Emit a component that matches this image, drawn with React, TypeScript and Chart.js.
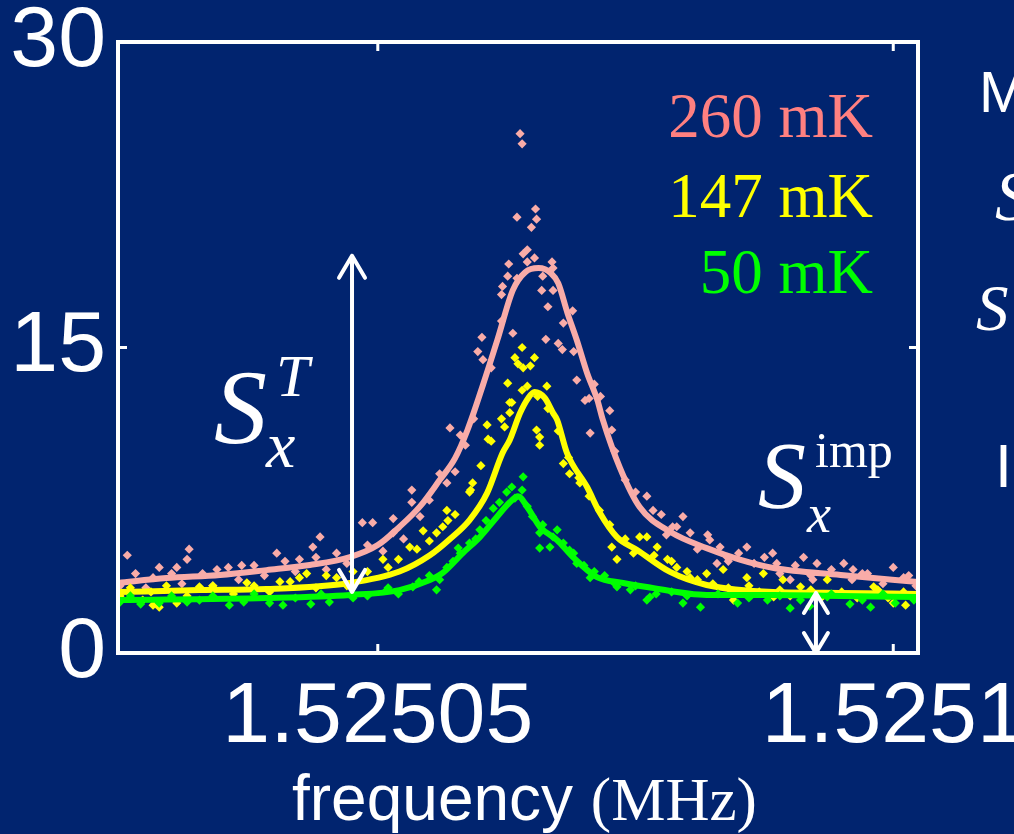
import React, { useEffect, useRef } from "react";
import { Chart, registerables } from "chart.js";

Chart.register(...registerables);

// x values: frequency offset in Hz from 1.52505 MHz
const xTickValues = [0, 50];
const xTickLabels = ["1.52505", "1.5251"];
const yTickValues = [0, 15, 30];
const yTickLabels = ["0", "15", "30"];
const xRange = [-25.2, 52.4];
const yRange = [0, 30];

const temperatures = ["260 mK", "147 mK", "50 mK"];
const seriesColors = ["#f9aca8", "#ffff00", "#00ff00"];
const legendColors = ["#ff8080", "#ffff00", "#00ff00"];

// fitted curves
const pinkFitFreq = [-25.2, -20.5, -15.3, -10.8, -6.6, -2.7, 0, 2.1, 4.1, 6.0, 7.5, 8.7, 10.2, 11.6, 13.1, 14.3, 15.6, 16.8, 17.5, 18.4, 19.3, 20.3, 21.3, 21.8, 23.5, 25.4, 28.4, 31.9, 35.2, 38.4, 44.9, 52.4];
const pinkFitS = [3.44, 3.68, 3.83, 4.07, 4.32, 4.71, 5.3, 6.19, 7.2, 8.49, 9.57, 10.95, 13.16, 15.37, 17.82, 18.7, 18.9, 18.65, 18.16, 16.69, 15.37, 13.75, 12.42, 11.5, 9.08, 7.17, 5.94, 5.15, 4.57, 4.17, 3.83, 3.49];

const yellowFitFreq = [-25.2, -17.3, -10.8, -2.7, 2.1, 5.05, 7.0, 8.9, 10.6, 12.1, 12.8, 13.8, 14.6, 15.2, 16.2, 17.0, 17.4, 18.35, 20.3, 21.55, 23.2, 25.15, 28.35, 31.9, 38.35, 44.85, 52.4];
const yellowFitS = [2.99, 3.09, 3.14, 3.44, 4.0, 4.8, 5.6, 6.53, 7.85, 9.82, 10.46, 11.78, 12.52, 12.81, 12.52, 11.78, 11.44, 9.82, 8.15, 6.87, 5.69, 5.06, 3.98, 3.34, 2.99, 2.95, 2.9];

const greenFitFreq = [-25.2, -10.8, -2.7, 2.1, 5.05, 6.3, 8.25, 9.9, 11.55, 12.8, 13.6, 14.56, 15.73, 17.38, 18.93, 21.26, 23.8, 26.1, 31.9, 38.35, 44.85, 52.4];
const greenFitS = [2.6, 2.7, 2.85, 3.09, 3.58, 3.93, 4.91, 5.69, 6.68, 7.4, 7.7, 7.12, 6.19, 5.55, 4.71, 3.73, 3.44, 3.24, 2.85, 2.85, 2.8, 2.75];

// measured points [frequency offset (Hz), S]
const pinkPoints = [
  [13.8, 25.5], [14.0, 25.0], [15.3, 21.8], [13.5, 21.4], [15.4, 21.3], [14.9, 20.9], [14.5, 19.8], [14.1, 19.6],
  [12.7, 19.1], [12.6, 18.5], [12.1, 18.0], [12.0, 17.6], [15.9, 17.8], [16.5, 17.0], [10.1, 15.5], [16.3, 15.4],
  [13.1, 15.7], [15.2, 19.4], [16.9, 19.2], [17.0, 18.9], [9.7, 14.8], [10.2, 14.4], [7.0, 11.05], [8.0, 10.7],
  [17.5, 15.2], [17.9, 14.9], [19.3, 13.4], [20.1, 12.4], [22.5, 11.9], [21.6, 12.6], [20.6, 10.8], [22.7, 10.95],
  [18.9, 16.8],
  [-24.3, 4.8], [-21.8, 3.7], [-21.2, 4.2], [-19.5, 4.2], [-18.5, 4.6], [-18.3, 5.1], [-15.6, 4.1], [-13.2, 4.3],
  [-9.8, 4.9], [-7.6, 4.6], [-6.3, 5.2], [-5.6, 5.7], [-1.5, 6.4], [-0.5, 6.4], [1.5, 6.6], [3.3, 8.0], [3.3, 7.4],
  [4.1, 6.7], [6.0, 8.8], [6.7, 8.35],
  [26.1, 7.7], [26.7, 7.0], [28.6, 6.2], [29.6, 6.7], [30.3, 5.9], [32.2, 5.55], [32.9, 4.4], [33.2, 5.2], [33.9, 4.7],
  [35.8, 5.2], [38.3, 4.9], [38.7, 4.4], [40.0, 3.6], [41.3, 4.7], [42.2, 3.6], [42.6, 4.4], [45.2, 4.4], [46.1, 4.1],
  [47.5, 3.9], [50.0, 4.2], [51.0, 3.7],
  [-25, 3.3], [-23.5, 3.9], [-22.5, 3.2], [-20, 3.9], [-19, 3.4], [-17, 3.9], [-16, 3.3], [-14.5, 4.2], [-13.5, 3.6],
  [-12, 4.3], [-11, 3.8], [-9, 4.5], [-8, 4.0], [-6, 4.7], [-5, 4.1], [-4, 4.9], [-3, 4.4], [-1, 5.3], [0.5, 5.0],
  [1.5, 5.9], [2.5, 5.6], [5, 7.5], [7.5, 8.9], [8.5, 10.2], [9.3, 11.5], [11, 14.0], [12, 16.3], [13.5, 18.4],
  [14.5, 19.2], [16, 18.5], [17, 17.8], [18, 16.2], [19, 14.8], [20.5, 12.5], [21, 13.2], [23, 9.9], [24, 8.5],
  [25, 7.9], [27.5, 6.8], [28, 5.8], [29, 6.2], [31, 5.1], [32, 5.8], [34, 4.5], [35, 4.9], [36.5, 4.4], [37.5, 4.7],
  [39, 3.9], [40.5, 4.3], [42, 3.8], [44, 4.1], [46, 3.6], [47, 3.9], [49, 3.4], [51.5, 3.8], [52.2, 3.3],
];

const yellowPoints = [
  [14.0, 15.0], [15.2, 14.5], [14.8, 14.1], [13.6, 14.2], [13.3, 14.5], [14.1, 14.0], [12.6, 13.25], [14.5, 13.1],
  [16.4, 13.1], [12.8, 12.3], [12.8, 11.8], [10.6, 11.2], [12.3, 11.1], [15.4, 10.95], [15.7, 10.6], [15.7, 10.2],
  [10.7, 10.5], [18.0, 9.3], [18.6, 8.8], [19.6, 8.35], [9.2, 8.35], [8.9, 7.9], [6.7, 7.0], [6.8, 6.5], [6.3, 6.2],
  [22.7, 5.2], [24.8, 4.9], [23.2, 4.6], [25.4, 5.7],
  [-22.8, 2.6], [-21.8, 2.35], [-21.2, 2.25], [-19.5, 2.45], [-17.3, 3.25], [-12.7, 3.45], [-9.5, 3.5], [-7.6, 3.7],
  [-6.9, 3.9], [-5.0, 3.8], [-2.4, 4.0], [0.5, 4.6], [3.1, 5.2], [4.4, 6.0], [5.7, 5.9],
  [26.1, 5.7], [27.1, 5.2], [28.1, 4.6], [29.0, 4.2], [30.3, 3.7], [31.9, 3.9], [33.5, 4.1], [34.5, 2.6], [35.8, 3.7],
  [37.4, 3.9], [38.4, 2.75], [39.3, 3.6], [41.0, 3.25], [43.6, 3.6], [48.1, 3.25], [50.0, 2.45], [51.2, 2.35],
  [-25, 2.8], [-24, 3.2], [-22, 3.0], [-20.5, 3.3], [-18.5, 2.8], [-16, 3.3], [-14, 2.9], [-12, 3.3], [-10.5, 3.0],
  [-8.5, 3.5], [-6, 3.2], [-4, 3.7], [-3, 3.3], [-1, 4.0], [1, 4.2], [2, 4.6], [3.8, 5.1], [5, 5.5], [7.5, 6.8],
  [9, 8.0], [10, 9.2], [11, 10.4], [12, 11.5], [13, 12.3], [14, 12.9], [15.5, 12.6], [16.5, 12.0], [17.5, 10.9],
  [18.5, 9.6], [19.5, 8.6], [20.5, 7.7], [21.5, 7.0], [22.5, 6.3], [24, 5.6], [26.8, 4.8], [28.5, 4.5], [30, 4.0],
  [31, 3.6], [32.5, 3.4], [34, 3.2], [36, 3.3], [37, 3.0], [39, 3.1], [40, 2.8], [42, 3.1], [43, 2.7], [45, 3.0],
  [46.5, 2.7], [48.5, 3.1], [49.5, 2.7], [51, 3.0], [52.2, 2.8],
];

const greenPoints = [
  [14.1, 8.65], [14.0, 8.0], [13.0, 8.15], [11.2, 7.1], [9.9, 6.05], [8.9, 5.4], [7.8, 5.15], [7.3, 4.5], [5.7, 3.1],
  [15.7, 5.9], [15.7, 5.15], [16.7, 5.2], [17.4, 6.05], [18.6, 5.05], [19.3, 4.4], [20.6, 3.7], [23.2, 3.25],
  [24.5, 3.1], [26.1, 2.6],
  [-21.2, 2.45], [-17.3, 2.6], [-14.4, 2.35], [-10.5, 2.45], [-9.2, 2.35], [-4.7, 2.5], [-2.4, 2.7], [0.9, 3.1],
  [3.4, 3.25], [6.7, 4.2],
  [26.4, 2.75], [29.6, 2.45], [31.3, 2.25], [34.9, 2.45], [37.8, 2.6], [40.0, 2.2], [41.9, 2.3], [43.6, 2.75],
  [45.8, 2.4], [47.8, 2.25], [50.2, 2.45],
  [-25, 2.5], [-24, 2.8], [-23, 2.4], [-20, 2.8], [-18.5, 2.5], [-16, 2.8], [-13, 2.5], [-12, 2.9], [-8, 2.7],
  [-6.5, 2.4], [-5.5, 2.9], [-1, 2.8], [1, 3.2], [2, 2.9], [4, 3.5], [5, 3.8], [6, 3.6], [8, 4.9], [9.5, 5.6],
  [10.5, 6.5], [11.8, 7.4], [12.5, 7.9], [13.3, 7.6], [14.5, 7.2], [15, 6.7], [16, 6.3], [17, 5.7], [18, 5.4],
  [19, 4.9], [20, 4.3], [21, 4.0], [22, 3.8], [23, 3.4], [25, 3.3], [27, 2.9], [28.5, 3.0], [30, 2.8], [33, 2.9],
  [36, 2.7], [39, 2.8], [41, 2.6], [44, 2.9], [47, 2.6], [49, 2.9], [52, 2.6],
];

// double-headed arrows (frequency offset, from S, to S)
const arrowThermal = [-2.5, 3.0, 19.5];
const arrowImprecision = [42.5, 0, 2.95];

const BG = "#01246f";

function toXY(xs: number[], ys: number[]) {
  return xs.map((x, i) => ({ x, y: ys[i] }));
}
function pairs(p: number[][]) {
  return p.map(([x, y]) => ({ x, y }));
}

function drawArrow(ctx: CanvasRenderingContext2D, x: number, yBottom: number, yTop: number, hw: number, hh: number) {
  ctx.beginPath();
  ctx.moveTo(x, yBottom);
  ctx.lineTo(x, yTop);
  ctx.moveTo(x - hw, yTop + hh);
  ctx.lineTo(x, yTop);
  ctx.lineTo(x + hw, yTop + hh);
  ctx.moveTo(x - hw, yBottom - hh);
  ctx.lineTo(x, yBottom);
  ctx.lineTo(x + hw, yBottom - hh);
  ctx.stroke();
}

const decorPlugin = {
  id: "decor",
  afterDatasetsDraw(chart: any) {
    const { ctx, chartArea: a, scales } = chart;
    ctx.save();
    ctx.strokeStyle = "#ffffff";
    ctx.lineWidth = 4;
    ctx.strokeRect(a.left, a.top, a.right - a.left, a.bottom - a.top);
    ctx.lineWidth = 3;
    ctx.beginPath();
    for (const t of scales.x.ticks) {
      const px = scales.x.getPixelForValue(t.value);
      if (px > a.left + 3 && px < a.right - 3) {
        ctx.moveTo(px, a.bottom);
        ctx.lineTo(px, a.bottom - 9);
        ctx.moveTo(px, a.top);
        ctx.lineTo(px, a.top + 9);
      }
    }
    for (const t of scales.y.ticks) {
      const py = scales.y.getPixelForValue(t.value);
      if (py > a.top + 3 && py < a.bottom - 3) {
        ctx.moveTo(a.left, py);
        ctx.lineTo(a.left + 9, py);
        ctx.moveTo(a.right, py);
        ctx.lineTo(a.right - 9, py);
      }
    }
    ctx.stroke();

    ctx.lineWidth = 4;
    ctx.lineCap = "round";
    ctx.lineJoin = "round";
    drawArrow(ctx, scales.x.getPixelForValue(arrowThermal[0]), scales.y.getPixelForValue(arrowThermal[1]), scales.y.getPixelForValue(arrowThermal[2]), 13, 22);
    drawArrow(ctx, scales.x.getPixelForValue(arrowImprecision[0]), scales.y.getPixelForValue(arrowImprecision[1]), scales.y.getPixelForValue(arrowImprecision[2]), 12, 20);
    ctx.restore();
  },
  afterDraw(chart: any) {
    const { ctx } = chart;
    ctx.save();
    ctx.textBaseline = "alphabetic";
    // legend labels
    ctx.textAlign = "right";
    ctx.font = "63px 'Liberation Serif'";
    const baselines = [137, 217, 293];
    temperatures.forEach((t, i) => {
      ctx.fillStyle = legendColors[i];
      ctx.fillText(t, 873, baselines[i]);
    });
    ctx.textAlign = "left";
    ctx.fillStyle = "#ffffff";
    // S_x^T
    ctx.font = "italic 106px 'Liberation Serif'";
    ctx.fillText("S", 214, 443);
    ctx.font = "italic 60px 'Liberation Serif'";
    ctx.fillText("T", 276, 396);
    ctx.font = "italic 66px 'Liberation Serif'";
    ctx.fillText("x", 266, 467);
    // S_x^imp
    ctx.font = "italic 96px 'Liberation Serif'";
    ctx.fillText("S", 758, 508);
    ctx.font = "50px 'Liberation Serif'";
    ctx.fillText("imp", 815, 467);
    ctx.font = "italic 54px 'Liberation Serif'";
    ctx.fillText("x", 807, 532);
    // axis title
    ctx.font = "64px 'Liberation Sans'";
    const w = ctx.measureText("frequency ").width;
    ctx.fillText("frequency ", 292, 820);
    ctx.font = "61px 'Liberation Serif'";
    ctx.fillText("(MHz)", 292 + w, 820);
    // clipped slide text at right edge
    ctx.font = "58px 'Liberation Sans'";
    ctx.fillText("M", 979, 112);
    ctx.font = "italic 70px 'Liberation Serif'";
    ctx.fillText("S", 995, 220);
    ctx.font = "italic 65px 'Liberation Serif'";
    ctx.fillText("S", 976, 330);
    ctx.font = "61px 'Liberation Sans'";
    ctx.fillText("I", 995, 487);
    ctx.restore();
  },
};

export default function App() {
  const ref = useRef<HTMLCanvasElement | null>(null);
  useEffect(() => {
    if (!ref.current) return;
    const pointDs = (data: any[], color: string, order: number) => ({
      data,
      showLine: false,
      pointStyle: "rectRot",
      pointRadius: 4.6,
      pointBorderWidth: 0,
      pointBackgroundColor: color,
      backgroundColor: color,
      borderColor: color,
      order,
    });
    const fitDs = (data: any[], color: string, order: number) => ({
      data,
      showLine: true,
      borderColor: color,
      borderWidth: 6,
      pointRadius: 0,
      cubicInterpolationMode: "monotone",
      fill: false,
      order,
    });
    const chart = new Chart(ref.current, {
      type: "scatter",
      data: {
        datasets: [
          fitDs(toXY(greenFitFreq, greenFitS), seriesColors[2], 0),
          pointDs(pairs(greenPoints), seriesColors[2], 1),
          fitDs(toXY(yellowFitFreq, yellowFitS), seriesColors[1], 2),
          pointDs(pairs(yellowPoints), seriesColors[1], 3),
          fitDs(toXY(pinkFitFreq, pinkFitS), seriesColors[0], 4),
          pointDs(pairs(pinkPoints), seriesColors[0], 5),
        ] as any,
      },
      options: {
        animation: false,
        responsive: false,
        devicePixelRatio: 1,
        layout: { padding: { left: 0, top: 42, right: 96, bottom: 0 } },
        plugins: { legend: { display: false }, tooltip: { enabled: false } },
        scales: {
          x: {
            type: "linear",
            min: xRange[0],
            max: xRange[1],
            afterBuildTicks: (s: any) => {
              s.ticks = xTickValues.map((v) => ({ value: v }));
            },
            afterFit: (s: any) => {
              s.height = 181;
              s.paddingLeft = 0;
              s.paddingRight = 0;
            },
            grid: { display: false, drawTicks: false },
            border: { display: false },
            ticks: {
              autoSkip: false,
              maxRotation: 0,
              color: "#ffffff",
              padding: 14,
              font: { family: "'Liberation Sans'", size: 86 },
              callback: (_v: any, i: number) => xTickLabels[i],
            },
          },
          y: {
            type: "linear",
            min: yRange[0],
            max: yRange[1],
            afterBuildTicks: (s: any) => {
              s.ticks = yTickValues.map((v) => ({ value: v }));
            },
            afterFit: (s: any) => {
              s.width = 118;
              s.paddingTop = 0;
              s.paddingBottom = 0;
            },
            grid: { display: false, drawTicks: false },
            border: { display: false },
            ticks: {
              color: "#ffffff",
              padding: 12,
              font: { family: "'Liberation Sans'", size: 86 },
              callback: (_v: any, i: number) => yTickLabels[i],
            },
          },
        },
      } as any,
      plugins: [decorPlugin],
    });
    return () => chart.destroy();
  }, []);
  return (
    <div style={{ position: "fixed", left: 0, top: 0, width: 1014, height: 834, background: BG, overflow: "hidden" }}>
      <canvas ref={ref} width={1014} height={834} style={{ display: "block" }} />
    </div>
  );
}
